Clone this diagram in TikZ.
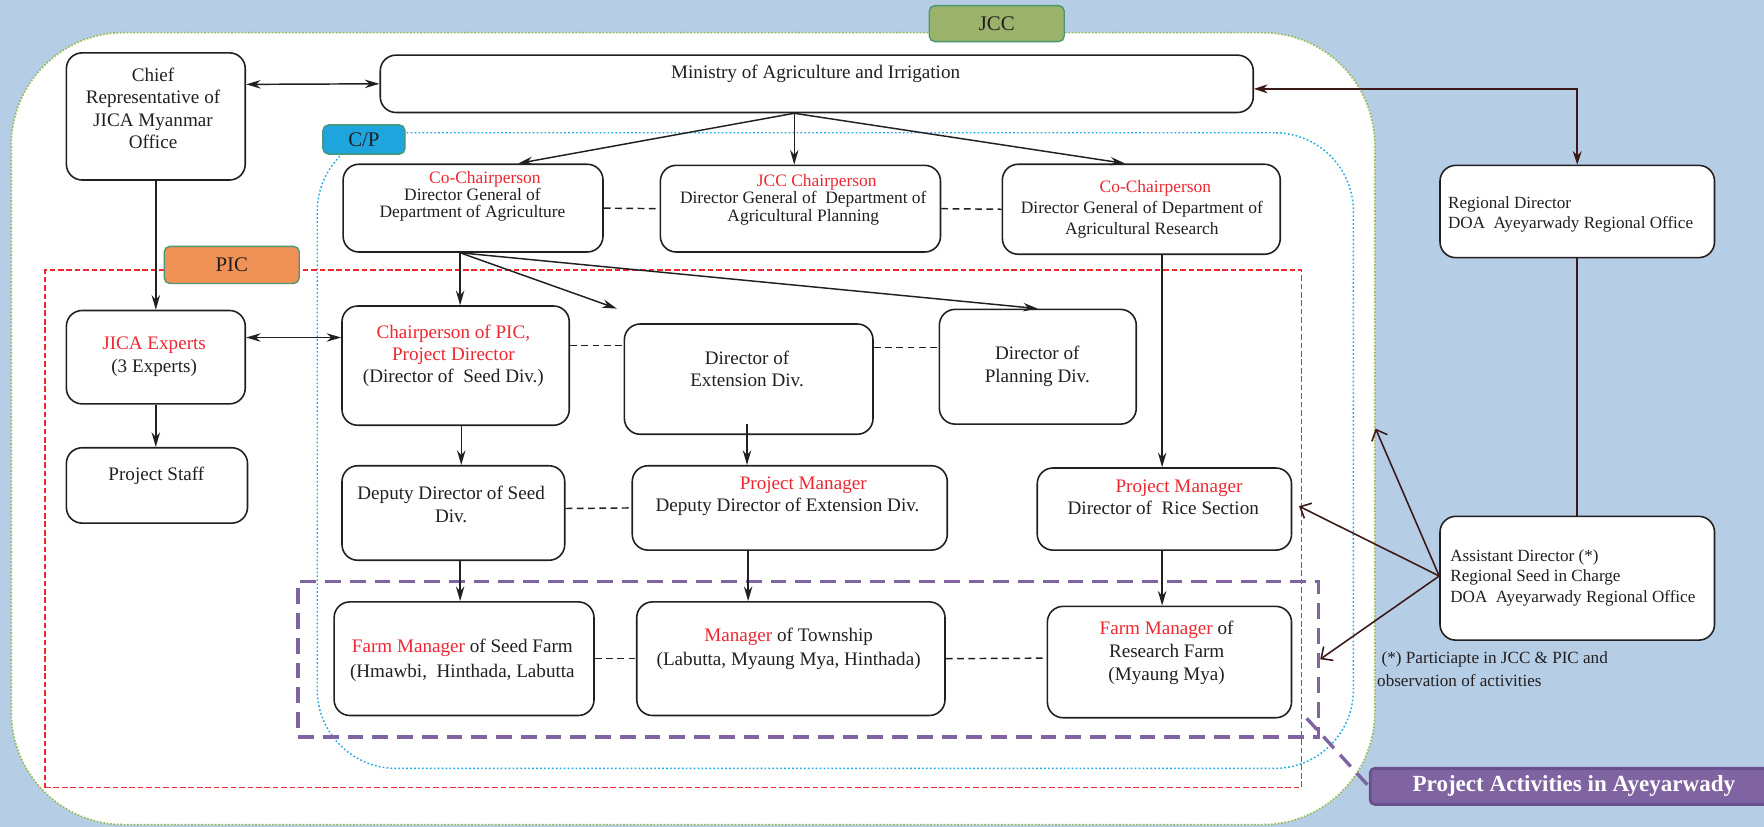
\documentclass[tikz,border=0pt]{standalone}
\usepackage{fontspec}
\setmainfont{Liberation Serif}
\usetikzlibrary{arrows.meta,calc}
\definecolor{bg}{RGB}{181,205,229}
\definecolor{jccg}{RGB}{155,178,106}
\definecolor{dotg}{RGB}{150,188,85}
\definecolor{cpb}{RGB}{30,165,222}
\definecolor{cpdot}{RGB}{30,170,230}
\definecolor{picor}{RGB}{240,145,85}
\definecolor{lblb}{RGB}{75,150,115}
\definecolor{redt}{RGB}{237,40,50}
\definecolor{redd}{RGB}{240,40,50}
\definecolor{purp}{RGB}{128,100,162}
\definecolor{purpd}{RGB}{105,80,140}
\definecolor{brn}{RGB}{60,25,25}
\definecolor{ink}{RGB}{35,31,32}
\begin{document}
\begin{tikzpicture}[x=1pt,y=-1pt,
 box/.style={draw=ink,line width=1.4pt,rounded corners=14pt,fill=white,inner sep=0pt},
 txt/.style={inner sep=0pt,align=center,text=ink,font=\fontsize{17}{20}\selectfont},
 ltxt/.style={inner sep=0pt,align=left,anchor=west,text=ink,font=\fontsize{15.2}{18}\selectfont},
 lbl/.style={draw=lblb,line width=1.2pt,rounded corners=5pt,inner sep=0pt,text=ink,font=\fontsize{18.5}{20}\selectfont},
 arr/.style={draw=ink,line width=1.3pt,-{Stealth[length=13pt,width=7.5pt]}},
 darr/.style={draw=ink,line width=1.3pt,{Stealth[length=13pt,width=7.5pt]}-{Stealth[length=13pt,width=7.5pt]}},
 dsh/.style={draw=ink,line width=1.3pt,dash pattern=on 6pt off 4pt},
 barb/.style={draw=brn,line width=1.4pt,-{Straight Barb[length=8pt,width=15pt]}},
]
\useasboundingbox (0,0) rectangle (1568,735);
\fill[bg] (0,0) rectangle (1568,735);

% regions
\node[draw=dotg,line width=1.5pt,dash pattern=on 1.5pt off 1.5pt,fill=white,rounded corners=100pt,
  minimum width=1212pt,minimum height=704pt,inner sep=0pt] (jcc) at (616,381) {};
\node[draw=cpdot,line width=1.3pt,dash pattern=on 1.5pt off 2pt,rounded corners=70pt,
  minimum width=921pt,minimum height=565pt,inner sep=0pt] (cp) at (742.5,400.5) {};
\node[draw=redd,line width=1.2pt,dash pattern=on 5pt off 2.5pt,
  minimum width=1117pt,minimum height=460pt,inner sep=0pt] (picr) at (598.5,470) {};
\node[draw=purp,line width=3pt,dash pattern=on 14pt off 8pt,
  minimum width=907pt,minimum height=138pt,inner sep=0pt] (pa) at (718.5,586) {};

% boxes
\node[box,minimum width=159pt,minimum height=113pt] (chief) at (138.5,103.5) {};
\node[box,minimum width=776pt,minimum height=51pt] (min) at (726,74.5) {};
\node[box,minimum width=231pt,minimum height=78pt] (co1) at (420.5,185) {};
\node[box,minimum width=249pt,minimum height=77pt] (jcp) at (711.5,185.5) {};
\node[box,minimum width=247pt,minimum height=80pt] (co2) at (1014.5,186) {};
\node[box,minimum width=159pt,minimum height=83pt] (exp) at (138.5,317.5) {};
\node[box,minimum width=161pt,minimum height=67pt] (staff) at (139.5,431.5) {};
\node[box,minimum width=202pt,minimum height=106pt] (cpic) at (405,325) {};
\node[box,minimum width=221pt,minimum height=98pt] (ext) at (665.5,337) {};
\node[box,minimum width=175pt,minimum height=102pt] (plan) at (922.5,326) {};
\node[box,minimum width=198pt,minimum height=84pt] (dep) at (403,456) {};
\node[box,minimum width=280pt,minimum height=75pt] (pmx) at (702,451.5) {};
\node[box,minimum width=226pt,minimum height=73pt] (pmr) at (1035,452.5) {};
\node[box,minimum width=231pt,minimum height=101pt] (fs) at (412.5,585.5) {};
\node[box,minimum width=274pt,minimum height=101pt] (tw) at (703,585.5) {};
\node[box,minimum width=217pt,minimum height=99pt] (rf) at (1039.5,588.5) {};
\node[box,minimum width=244pt,minimum height=82pt] (rd) at (1402,188) {};
\node[box,minimum width=244pt,minimum height=110pt] (ad) at (1402,514) {};

% connectors
\draw[darr] ([yshift=28.5pt]chief.east) -- (min.west);
\coordinate (mo) at ([xshift=-20pt]min.south);
\draw[arr] (mo) -- ([xshift=40pt]co1.north);
\draw[arr] (mo) -- ([xshift=-5.5pt]jcp.north);
\draw[arr] (mo) -- ([xshift=-14.5pt]co2.north);
\coordinate (co1o) at ([xshift=-11.5pt]co1.south);
\draw[arr] (co1o) -- ([xshift=4pt]cpic.north);
\draw[arr] (co1o) -- ([shift={(-6pt,13pt)}]ext.north west);
\draw[arr] (co1o) -- (plan.north);
\draw[arr] (chief.south) -- (exp.north);
\draw[arr] (exp.south) -- (exp.south |- staff.north);
\draw[darr] ([yshift=17.5pt]exp.east) -- ([yshift=25pt]cpic.west);
\draw[arr] ([xshift=5pt]cpic.south) -- ([xshift=7pt]dep.north);
\draw[arr] ([xshift=-1.5pt,yshift=10pt]ext.south) -- ([xshift=-38pt]pmx.north);
\draw[arr] ([xshift=18.5pt]co2.south) -- ([xshift=-2pt]pmr.north);
\draw[arr] ([xshift=6pt]dep.south) -- ([xshift=-3.5pt]fs.north);
\draw[arr] ([xshift=-37pt]pmx.south) -- ([xshift=-38pt]tw.north);
\draw[arr] ([xshift=-2pt]pmr.south) -- ([xshift=-6.5pt]rf.north);

\draw[dsh] (co1.east) -- (jcp.west);
\draw[dsh] (jcp.east) -- (co2.west);
\draw[dsh] ([yshift=18pt]cpic.east) -- ([yshift=30pt]ext.west);
\draw[dsh] ([yshift=28pt]ext.east) -- ([yshift=17pt]plan.west);
\draw[dsh] ([yshift=4pt]dep.east) -- (pmx.west);
\draw[dsh] (fs.east) -- (tw.west);
\draw[dsh] (tw.east) -- ([yshift=3.5pt]rf.west);

\draw[brn,line width=1.4pt,{Stealth[length=12pt,width=8pt]}-{Stealth[length=12pt,width=8pt]}]
  ([yshift=-4.5pt]min.east) -| (rd.north);
\draw[brn,line width=1.4pt] (rd.south) -- (ad.north);
\coordinate (adw) at ([yshift=2pt]ad.west);
\draw[barb] (adw) -- (jcc.east);
\draw[barb] (adw) -- ([xshift=6pt,yshift=2.5pt]pmr.east);
\draw[barb] (adw) -- (pa.east);

% labels
\node[lbl,fill=jccg,minimum width=120pt,minimum height=32pt] (jccl) at (886,21) {JCC};
\node[lbl,fill=cpb,minimum width=73pt,minimum height=26pt] (cpl) at (323.5,124) {C/P};
\node[lbl,fill=picor,minimum width=120pt,minimum height=33pt] (picl) at (206,235.5) {PIC};
\node[draw=purpd,line width=2.5pt,fill=purp,rounded corners=4pt,inner sep=0pt,
  minimum width=362pt,minimum height=32pt,text=white,font=\fontsize{20.5}{21}\selectfont\bfseries] (pal) at (1399,699) {Project Activities in Ayeyarwady};
\draw[purp,line width=3pt,dash pattern=on 14pt off 8pt] ([xshift=-12pt,yshift=18pt]pa.south east) -- (pal.west);

% texts
\node[txt] (chieft) at (136,96.5) {Chief\\Representative of\\JICA Myanmar\\Office};
\node[txt] (mint) at (725,66) {Ministry of Agriculture and Irrigation};
\node[txt,font=\fontsize{15.5}{15}\selectfont] (co1t) at (420,174.5) {\hspace*{22pt}\textcolor{redt}{Co-Chairperson}\\Director General of\\Department of Agriculture};
\node[txt,font=\fontsize{15.5}{15.5}\selectfont] (jcpt) at (714,177.5) {\hspace*{24pt}\textcolor{redt}{JCC Chairperson}\\Director General of\ \ Department of\\Agricultural Planning};
\node[txt,font=\fontsize{15.5}{18.5}\selectfont] (co2t) at (1015,186) {\hspace*{24pt}\textcolor{redt}{Co-Chairperson}\\Director General of Department of\\Agricultural Research};
\node[txt] (expt) at (137,317) {\textcolor{redt}{JICA Experts}\\(3 Experts)};
\node[txt] (stafft) at (139,423) {Project Staff};
\node[txt,font=\fontsize{17}{19.5}\selectfont] (cpict) at (403,316.5) {\textcolor{redt}{Chairperson of PIC,}\\\textcolor{redt}{Project Director}\\(Director of\ \ Seed Div.)};
\node[txt] (extt) at (664,328) {Director of\\Extension Div.};
\node[txt] (plant) at (922,325.5) {Director of\\Planning Div.};
\node[txt,font=\fontsize{17}{21}\selectfont] (dept) at (401,448.5) {Deputy Director of Seed\\Div.};
\node[txt] (pmxt) at (700,441) {\hspace*{28pt}\textcolor{redt}{Project Manager}\\Deputy Director of Extension Div.};
\node[txt] (pmrt) at (1034,442) {\hspace*{28pt}\textcolor{redt}{Project Manager}\\Director of\ \ Rice Section};
\node[txt,font=\fontsize{17}{22}\selectfont] (fst) at (411,587) {\textcolor{redt}{Farm Manager} of Seed Farm\\(Hmawbi,\ \ Hinthada, Labutta};
\node[txt,font=\fontsize{17}{21}\selectfont] (twt) at (701,576.5) {\textcolor{redt}{Manager} of Township\\(Labutta, Myaung Mya, Hinthada)};
\node[txt,font=\fontsize{17}{20.5}\selectfont] (rft) at (1037,580) {\textcolor{redt}{Farm Manager} of\\Research Farm\\(Myaung Mya)};
\node[ltxt] (rdt) at (1287,190.5) {Regional Director\\DOA\ \ Ayeyarwady Regional Office};
\node[ltxt] (adt) at (1289,513.5) {Assistant Director (*)\\Regional Seed in Charge\\DOA\ \ Ayeyarwady Regional Office};
\node[ltxt,font=\fontsize{15.2}{20}\selectfont] (fn) at (1224,595) {\hspace*{4pt}(*) Particiapte in JCC \& PIC and\\observation of activities};
\end{tikzpicture}
\end{document}
